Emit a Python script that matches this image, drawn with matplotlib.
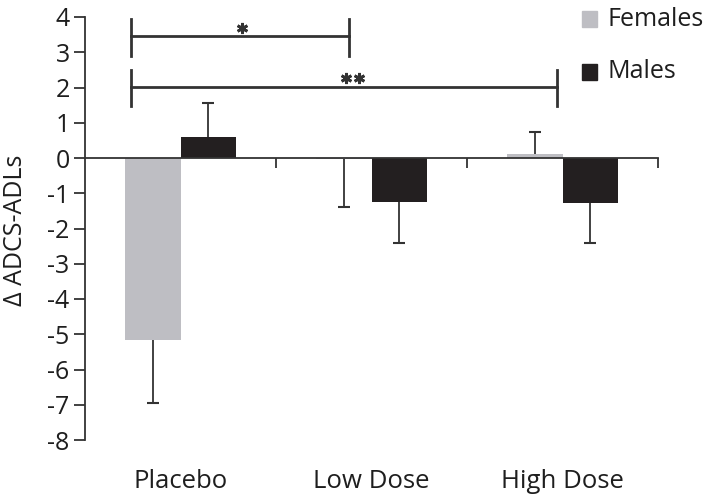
import matplotlib
matplotlib.use("Agg")
import matplotlib.pyplot as plt
from matplotlib.patches import Rectangle
from matplotlib.transforms import blended_transform_factory
import numpy as np

categories = ["Placebo", "Low Dose", "High Dose"]
females = [-5.15, -0.02, 0.12]
males = [0.6, -1.25, -1.28]
fem_err_low = [1.8, 1.38, 0.0]
fem_err_up = [0.0, 0.0, 0.63]
male_err_low = [0.0, 1.15, 1.12]
male_err_up = [0.95, 0.0, 0.0]
yticks = list(range(-8, 5))

plt.rcParams['font.family'] = ['Open Sans', 'DejaVu Sans']

fig = plt.figure(figsize=(7.14, 5.03), dpi=100)
ax = fig.add_axes([85/714, 1-440/503, (658-85)/714, (440-17)/503])

x = np.arange(len(categories))
w = 0.288
fcol = "#BEBEC3"
mcol = "#231F20"
ecol = "#333333"
tcol = "#1e1e1e"

ax.bar(x - w/2, females, w, color=fcol, zorder=2)
ax.bar(x + w/2, males, w, color=mcol, zorder=2)

def one_sided(xs, vals, lo, up):
    for xi, v, l, u in zip(xs, vals, lo, up):
        for d in (-l, u):
            if d != 0:
                ax.plot([xi, xi], [v, v + d], color=ecol, lw=1.3, zorder=3, solid_capstyle='butt')
                ax.plot([xi], [v + d], marker='_', ms=8, mew=1.5, color=ecol, zorder=3)

one_sided(x - w/2, females, fem_err_low, fem_err_up)
one_sided(x + w/2, males, male_err_low, male_err_up)

ax.set_xlim(-0.5, 2.5)
ax.set_ylim(-8, 4)
ax.set_yticks(yticks)
ax.set_yticklabels([str(t) for t in yticks], fontsize=18, color=tcol)
ax.spines['top'].set_visible(False)
ax.spines['right'].set_visible(False)
ax.spines['bottom'].set_position(('data', 0))
for s in ('left', 'bottom'):
    ax.spines[s].set_linewidth(1.3)
    ax.spines[s].set_color(ecol)
ax.set_xticks([0.5, 1.5, 2.5])
ax.set_xticklabels([])
ax.tick_params(axis='x', direction='out', length=7, width=1.3, color=ecol)
ax.tick_params(axis='y', direction='out', length=8, width=1.3, color=ecol, pad=3)

trans = blended_transform_factory(ax.transData, ax.transAxes)
for xi, c in zip(x, categories):
    ax.text(xi, -0.097, c, transform=trans, ha='center', va='center', fontsize=18.5, color=tcol)

ax.set_ylabel("Δ ADCS-ADLs", fontsize=18, color=tcol)
ax.yaxis.set_label_coords(-0.099, 0.496)

# significance brackets
bcol = "#333333"
def bracket(x0, x1, y, y0, y1):
    ax.plot([x0, x1], [y, y], color=bcol, lw=2, clip_on=False, zorder=4)
    ax.plot([x0, x0], [y0, y1], color=bcol, lw=2, clip_on=False, zorder=4)
    ax.plot([x1, x1], [y0, y1], color=bcol, lw=2, clip_on=False, zorder=4)

bracket(-0.259, 0.882, 3.46, 2.9, 3.94)
bracket(-0.259, 1.971, 2.01, 1.48, 2.5)
ax.plot([0.322], [3.69], marker=(6, 2, 0), ms=8, mew=2, color=bcol, zorder=4)
ax.plot([0.868, 0.936], [2.27, 2.27], ls='none', marker=(6, 2, 0), ms=8, mew=2, color=bcol, zorder=4)

# legend
for (lbl, col, yc) in [("Females", fcol, 19), ("Males", mcol, 72)]:
    fig.add_artist(Rectangle((582/714, 1-(yc+7.5)/503), 15/714, 15/503,
                             transform=fig.transFigure, color=col))
    fig.text(607/714, 1-yc/503, lbl, ha='left', va='center', fontsize=18, color=tcol)

fig.savefig("out.png", dpi=100)
